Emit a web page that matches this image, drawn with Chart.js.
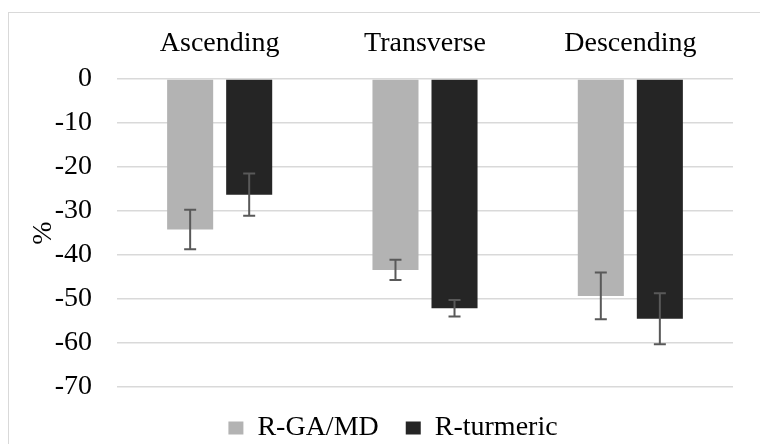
<!DOCTYPE html>
<html>
<head>
<meta charset="utf-8">
<script src="https://cdn.jsdelivr.net/npm/chart.js@4.4.0/dist/chart.umd.min.js"></script>
<style>
  html, body { margin: 0; padding: 0; background: #fff; overflow: hidden; }
  #wrap { position: relative; width: 760px; height: 444px; overflow: hidden; }
  #frame { position: absolute; left: 8px; top: 12px; width: 900px; height: 600px;
           border-left: 1.5px solid #d9d9d9; border-top: 1.5px solid #d9d9d9; }
  #chart { position: absolute; left: 0; top: 0; }
</style>
</head>
<body>
<div id="wrap">
  <div id="frame"></div>
  <canvas id="chart" width="760" height="444"></canvas>
</div>
<script>
    // values
    const categories = ["Ascending", "Transverse", "Descending"];
    const seriesNames = ["R-GA/MD", "R-turmeric"];
    const gaValues = [-34.2, -43.4, -49.3];
    const gaErrors = [4.5, 2.3, 5.3];
    const turmericValues = [-26.3, -52.1, -54.5];
    const turmericErrors = [4.8, 1.85, 5.8];
    const yTicks = [0, -10, -20, -30, -40, -50, -60, -70];

    const font = "'Liberation Serif', 'Times New Roman', serif";

    const errorBars = {
        id: "errorBars",
        afterDatasetsDraw(chart) {
            const ctx = chart.ctx;
            const yScale = chart.scales.y;
            ctx.save();
            ctx.strokeStyle = "#595959";
            ctx.lineWidth = 2;
            chart.data.datasets.forEach((dataset, di) => {
                const meta = chart.getDatasetMeta(di);
                meta.data.forEach((bar, i) => {
                    const v = dataset.data[i];
                    const e = dataset.errors[i];
                    const top = yScale.getPixelForValue(v + e);
                    const bottom = yScale.getPixelForValue(v - e);
                    const cap = 6;
                    ctx.beginPath();
                    ctx.moveTo(bar.x, top);
                    ctx.lineTo(bar.x, bottom);
                    ctx.moveTo(bar.x - cap, top);
                    ctx.lineTo(bar.x + cap, top);
                    ctx.moveTo(bar.x - cap, bottom);
                    ctx.lineTo(bar.x + cap, bottom);
                    ctx.stroke();
                });
            });
            ctx.restore();
        }
    };

    new Chart(document.getElementById("chart"), {
        type: "bar",
        data: {
            labels: categories,
            datasets: [
                {
                    label: seriesNames[0],
                    data: gaValues,
                    errors: gaErrors,
                    backgroundColor: "#b3b3b3",
                },
                {
                    label: seriesNames[1],
                    data: turmericValues,
                    errors: turmericErrors,
                    backgroundColor: "#252525",
                }
            ]
        },
        options: {
            responsive: false,
            animation: false,
            devicePixelRatio: 1,
            categoryPercentage: 0.575,
            barPercentage: 0.78,
            layout: {
                padding: { left: 53, right: 27, top: 7.4, bottom: -8 }
            },
            scales: {
                x: {
                    position: "top",
                    grid: { display: false, drawTicks: false, tickLength: 0 },
                    border: { display: false },
                    ticks: {
                        color: "#000",
                        font: { family: font, size: 28 },
                        padding: 19,
                        maxRotation: 0,
                        autoSkip: false
                    }
                },
                y: {
                    min: yTicks[yTicks.length - 1],
                    max: yTicks[0],
                    afterBuildTicks: (scale) => {
                        scale.ticks = yTicks.map((v) => ({ value: v }));
                    },
                    afterFit: (scale) => {
                        scale.width = 64;
                    },
                    grid: { color: "#d9d9d9", lineWidth: 1.5, drawTicks: false },
                    border: { display: false },
                    ticks: {
                        color: "#000",
                        font: { family: font, size: 28 },
                        padding: 25
                    },
                    title: {
                        display: true,
                        text: "%",
                        color: "#000",
                        font: { family: font, size: 28 },
                        padding: { top: -26, bottom: 0 }
                    }
                }
            },
            plugins: {
                tooltip: { enabled: false },
                legend: {
                    position: "bottom",
                    labels: {
                        color: "#000",
                        font: { family: font, size: 28 },
                        boxWidth: 15,
                        boxHeight: 13,
                        padding: 27
                    }
                }
            }
        },
        plugins: [errorBars]
    });
</script>
</body>
</html>
